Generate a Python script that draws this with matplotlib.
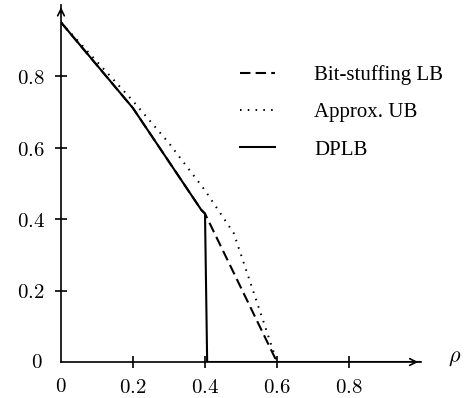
import matplotlib
matplotlib.use("Agg")
import matplotlib.pyplot as plt

plt.rcParams['mathtext.fontset'] = 'cm'

# data
bs_x = [0.0, 0.2, 0.39, 0.4, 0.6]
bs_y = [0.95, 0.71, 0.425, 0.415, 0.0]

ub_x = [0.0, 0.2, 0.3, 0.4, 0.48, 0.6]
ub_y = [0.95, 0.73, 0.612, 0.48, 0.36, 0.0]

dp_x = [0.0, 0.2, 0.39, 0.4, 0.406, 1.0]
dp_y = [0.95, 0.71, 0.425, 0.415, 0.0, 0.0]

xticks = [0.2, 0.4, 0.6, 0.8]
yticks = [0.2, 0.4, 0.6, 0.8]

fig = plt.figure(figsize=(4.7, 3.98), dpi=100)
ax = fig.add_axes([61/470, 36/398, 360/470, 357.5/398])

ax.plot(bs_x, bs_y, color='black', lw=1.5, dashes=(5, 2.5), label='Bit-stuffing LB')
ax.plot(ub_x, ub_y, color='black', lw=1.4, dashes=(0.8, 3.2), label='Approx. UB')
ax.plot(dp_x, dp_y, color='black', lw=1.5, label='DPLB')

ax.set_xlim(0, 1.0)
ax.set_ylim(0, 1.0)

for s in ['top', 'right']:
    ax.spines[s].set_visible(False)
for s in ['left', 'bottom']:
    ax.spines[s].set_linewidth(1.2)

# arrow heads on the axes
ax.annotate('', xy=(1.0, 0), xytext=(0.97, 0), xycoords='axes fraction',
            arrowprops=dict(arrowstyle='->', lw=1.2, color='black', mutation_scale=12))
ax.annotate('', xy=(0, 1.0), xytext=(0, 0.97), xycoords='axes fraction',
            arrowprops=dict(arrowstyle='->', lw=1.2, color='black', mutation_scale=12))

ax.set_xticks(xticks)
ax.set_yticks(yticks)
ax.set_xticklabels(['$%g$' % v for v in xticks])
ax.set_yticklabels(['$%g$' % v for v in yticks])
ax.tick_params(direction='inout', length=9, width=1.2, labelsize=15)
ax.tick_params(axis='x', pad=6)
ax.tick_params(axis='y', pad=7)

# zero labels without tick marks
ax.text(0, -0.068, '$0$', transform=ax.transAxes, ha='center', va='center', fontsize=15)
ax.text(-0.05, 0, '$0$', transform=ax.transAxes, ha='right', va='center', fontsize=15)
ax.text(1.094, 0.01, r'$\rho$', transform=ax.transAxes, ha='center', va='center', fontsize=16)

ax.legend(loc='upper left', bbox_to_anchor=(0.497, 0.83), frameon=False,
          prop={'family': 'Liberation Serif', 'size': 15},
          handlelength=1.7, handletextpad=1.85, labelspacing=0.85,
          borderpad=0, borderaxespad=0)

fig.savefig('out.png', dpi=100)
